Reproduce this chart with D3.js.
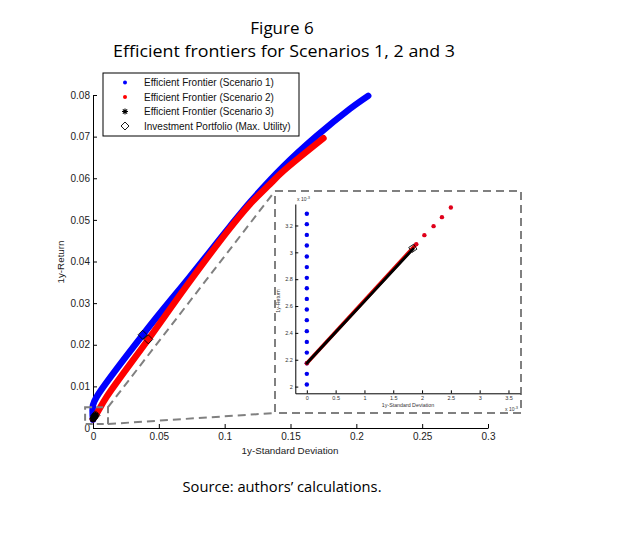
<!DOCTYPE html>
<html>
<head>
<meta charset="utf-8">
<script src="https://cdnjs.cloudflare.com/ajax/libs/d3/7.8.5/d3.min.js"></script>
<style>
  body { margin: 0; background: #fff; }
  svg { display: block; }
</style>
</head>
<body>
<div id="container"></div>
<script>
(function() {

// ---- data ----
let xTicks = [0, 0.05, 0.1, 0.15, 0.2, 0.25, 0.3];
let yTicks = [0, 0.01, 0.02, 0.03, 0.04, 0.05, 0.06, 0.07, 0.08];

// [std dev, return]
let scenario1 = [
  [0, 0.00201], [0, 0.0055], [0.0028, 0.0075], [0.0408, 0.0236], [0.0737, 0.0364],
  [0.104, 0.0484], [0.12, 0.0545], [0.1445, 0.0628], [0.170, 0.0702],
  [0.1952, 0.0767], [0.209, 0.0798]
];
let scenario2 = [
  [0, 0.00217], [0.0025, 0.0033], [0.0104, 0.0075], [0.042, 0.0213], [0.0737, 0.0353],
  [0.104, 0.0480], [0.119, 0.0537], [0.1344, 0.0586], [0.1445, 0.0617], [0.175, 0.0696]
];
let scenario3 = [
  [0, 0.002174], [0.0005, 0.002405], [0.001, 0.002635], [0.0015, 0.002866], [0.001846, 0.003026]
];
let portfolios = [[0.0377, 0.0224], [0.042, 0.0213], [0.00184, 0.00303]];

// inset (zoom on the origin)
let insetXTicks = [0, 0.0005, 0.001, 0.0015, 0.002, 0.0025, 0.003, 0.0035];
let insetYTicks = [0.002, 0.0022, 0.0024, 0.0026, 0.0028, 0.003, 0.0032];
let insetS1 = [
  0.002015, 0.002095, 0.002174, 0.002253, 0.002333, 0.002413, 0.002495, 0.002574,
  0.002653, 0.002733, 0.00281, 0.00289, 0.002969, 0.003051, 0.00313, 0.00321, 0.003287
];
let insetS2 = [
  [0, 0.002174], [0.0019, 0.003061], [0.00204, 0.003128], [0.0022, 0.003195],
  [0.002345, 0.003262], [0.0025, 0.003334]
];

let legendLabels = [
  "Efficient Frontier (Scenario 1)",
  "Efficient Frontier (Scenario 2)",
  "Efficient Frontier (Scenario 3)",
  "Investment Portfolio (Max. Utility)"
];

// ---- drawing ----
let W = 643, H = 534;
let sans = "'Liberation Sans', Arial, sans-serif";
let titleFont = "'Open Sans', 'Noto Sans', sans-serif";
let dashGrey = "#808080";

let svg = d3.select("#container")
  .append("svg")
    .attr("width", W)
    .attr("height", H);

function diamond(h) {
  return "M0," + (-h) + "L" + h + ",0L0," + h + "L" + (-h) + ",0Z";
}
function star(s) {
  let t = s * 0.72;
  return "M" + (-s) + ",0H" + s + "M0," + (-s) + "V" + s +
    "M" + (-t) + "," + (-t) + "L" + t + "," + t +
    "M" + (-t) + "," + t + "L" + t + "," + (-t);
}

// titles
svg.append("text")
  .attr("x", 282).attr("y", 34)
  .attr("text-anchor", "middle")
  .attr("font-family", titleFont).attr("font-size", 17)
  .text("Figure 6");
svg.append("text")
  .attr("x", 284).attr("y", 57)
  .attr("text-anchor", "middle")
  .attr("font-family", titleFont).attr("font-size", 17)
  .attr("textLength", 342).attr("lengthAdjust", "spacingAndGlyphs")
  .text("Efficient frontiers for Scenarios 1, 2 and 3");
svg.append("text")
  .attr("x", 282).attr("y", 492)
  .attr("text-anchor", "middle")
  .attr("font-family", titleFont).attr("font-size", 14.5)
  .attr("textLength", 199).attr("lengthAdjust", "spacingAndGlyphs")
  .text("Source: authors\u2019 calculations.");

// main scales
let x = d3.scaleLinear().domain([0, 0.3]).range([93, 488]);
let y = d3.scaleLinear().domain([0, 0.08]).range([428, 95]);

let xAxis = svg.append("g")
  .attr("transform", "translate(0," + y(0) + ")")
  .call(d3.axisBottom(x).tickValues(xTicks).tickSize(-4).tickSizeOuter(0)
    .tickPadding(5).tickFormat((d) => String(d)));
let yAxis = svg.append("g")
  .attr("transform", "translate(" + x(0) + ",0)")
  .call(d3.axisLeft(y).tickValues(yTicks).tickSize(-4).tickSizeOuter(0)
    .tickPadding(3).tickFormat((d) => String(d)));
[xAxis, yAxis].forEach((g) => {
  g.attr("font-family", sans).attr("font-size", 10).attr("color", "#000");
  g.selectAll("text").attr("fill", "#222");
});

svg.append("text")
  .attr("x", 290).attr("y", 454)
  .attr("text-anchor", "middle")
  .attr("font-family", sans).attr("font-size", 9.8).attr("fill", "#222")
  .text("1y-Standard Deviation");
svg.append("text")
  .attr("transform", "translate(64,262) rotate(-90)")
  .attr("text-anchor", "middle")
  .attr("font-family", sans).attr("font-size", 9.8).attr("fill", "#222")
  .text("1y-Return");

// frontiers (dense dot series drawn as thick strokes)
let line = d3.line()
  .x((d) => x(d[0]))
  .y((d) => y(d[1]))
  .curve(d3.curveCatmullRom.alpha(0.5));

svg.append("path")
  .attr("d", line(scenario1))
  .attr("fill", "none").attr("stroke", "#0000ff")
  .attr("stroke-width", 6.5).attr("stroke-linecap", "round").attr("stroke-linejoin", "round");
svg.append("path")
  .attr("d", line(scenario2))
  .attr("fill", "none").attr("stroke", "#ff0000")
  .attr("stroke-width", 6.5).attr("stroke-linecap", "round").attr("stroke-linejoin", "round");

svg.append("g")
  .selectAll("path")
  .data(scenario3)
  .enter()
  .append("path")
    .attr("transform", (d) => "translate(" + x(d[0]) + "," + y(d[1]) + ")")
    .attr("d", star(3.4))
    .attr("fill", "none").attr("stroke", "#000").attr("stroke-width", 1.8);

svg.append("g")
  .selectAll("path")
  .data(portfolios)
  .enter()
  .append("path")
    .attr("transform", (d) => "translate(" + x(d[0]) + "," + y(d[1]) + ")")
    .attr("d", diamond(4.5))
    .attr("fill", "none").attr("stroke", "#000").attr("stroke-width", 0.9);

// zoom indicator box and connectors
let zoomBox = { x0: x(-0.006), x1: x(0.0114), y0: y(0.005), y1: y(0.00096) };
let panel = { x0: 275, x1: 521, y0: 191, y1: 413 };

svg.append("rect")
  .attr("x", zoomBox.x0).attr("y", zoomBox.y0)
  .attr("width", zoomBox.x1 - zoomBox.x0).attr("height", zoomBox.y1 - zoomBox.y0)
  .attr("fill", "none").attr("stroke", dashGrey).attr("stroke-width", 2)
  .attr("stroke-dasharray", "7,4");
svg.append("line")
  .attr("x1", zoomBox.x1).attr("y1", zoomBox.y0)
  .attr("x2", panel.x0).attr("y2", panel.y0)
  .attr("stroke", dashGrey).attr("stroke-width", 2).attr("stroke-dasharray", "8,5");
svg.append("line")
  .attr("x1", zoomBox.x1).attr("y1", zoomBox.y1)
  .attr("x2", panel.x0).attr("y2", panel.y1)
  .attr("stroke", dashGrey).attr("stroke-width", 2).attr("stroke-dasharray", "8,5");

svg.append("rect")
  .attr("x", panel.x0).attr("y", panel.y0)
  .attr("width", panel.x1 - panel.x0).attr("height", panel.y1 - panel.y0)
  .attr("fill", "#fff").attr("stroke", dashGrey).attr("stroke-width", 2)
  .attr("stroke-dasharray", "8,5");

// inset axes
let ix = d3.scaleLinear().domain([-0.0002, 0.0037]).range([295.3, 520]);
let iy = d3.scaleLinear().domain([0.00195, 0.00336]).range([393.3, 204]);
let milli = (d) => String(+(d * 1000).toFixed(1));

let ixAxis = svg.append("g")
  .attr("transform", "translate(0," + iy.range()[0] + ")")
  .call(d3.axisBottom(ix).tickValues(insetXTicks).tickSize(-3).tickSizeOuter(0)
    .tickPadding(3).tickFormat(milli));
let iyAxis = svg.append("g")
  .attr("transform", "translate(" + ix.range()[0] + ",0)")
  .call(d3.axisLeft(iy).tickValues(insetYTicks).tickSize(-3).tickSizeOuter(0)
    .tickPadding(2.5).tickFormat(milli));
[ixAxis, iyAxis].forEach((g) => {
  g.attr("font-family", sans).attr("font-size", 5.5).attr("color", "#000");
  g.selectAll("text").attr("fill", "#333");
});

function exponent(xp, yp) {
  let t = svg.append("text")
    .attr("x", xp).attr("y", yp)
    .attr("font-family", sans).attr("font-size", 5).attr("fill", "#333");
  t.append("tspan").text("x 10");
  t.append("tspan").attr("dy", -2.5).attr("font-size", 4).text("-3");
}
exponent(297, 201);
exponent(505, 411);

svg.append("text")
  .attr("x", 408).attr("y", 407)
  .attr("text-anchor", "middle")
  .attr("font-family", sans).attr("font-size", 5.3).attr("fill", "#333")
  .text("1y-Standard Deviation");
svg.append("text")
  .attr("transform", "translate(280,301) rotate(-90)")
  .attr("text-anchor", "middle")
  .attr("font-family", sans).attr("font-size", 5.3).attr("fill", "#333")
  .text("1y-Return");

// inset marks
let iline = d3.line().x((d) => ix(d[0])).y((d) => iy(d[1]));

svg.append("g")
  .selectAll("circle")
  .data(insetS1)
  .enter()
  .append("circle")
    .attr("cx", ix(0))
    .attr("cy", (d) => iy(d))
    .attr("r", 2.2)
    .attr("fill", "#0000ee");

svg.append("path")
  .attr("d", iline(insetS2.slice(0, 2)))
  .attr("stroke", "#e00000").attr("stroke-width", 3.6).attr("fill", "none");
svg.append("g")
  .selectAll("circle")
  .data(insetS2)
  .enter()
  .append("circle")
    .attr("cx", (d) => ix(d[0]))
    .attr("cy", (d) => iy(d[1]))
    .attr("r", 2.2)
    .attr("fill", "#e0001a");

svg.append("path")
  .attr("d", iline(scenario3))
  .attr("stroke", "#000").attr("stroke-width", 2.8).attr("fill", "none")
  .attr("stroke-linecap", "round");

svg.append("path")
  .attr("transform", "translate(" + ix(portfolios[2][0]) + "," + iy(portfolios[2][1]) + ") rotate(12)")
  .attr("d", diamond(4.2))
  .attr("fill", "none").attr("stroke", "#000").attr("stroke-width", 0.8);

// legend
let legend = svg.append("g");
legend.append("rect")
  .attr("x", 103).attr("y", 73).attr("width", 196).attr("height", 63)
  .attr("fill", "#fff").attr("stroke", "#000").attr("stroke-width", 1);

let rowY = [82.5, 97, 111.5, 126];
legendLabels.forEach((label, i) => {
  let cy = rowY[i];
  if (i === 0 || i === 1) {
    legend.append("circle")
      .attr("cx", 125).attr("cy", cy).attr("r", 2)
      .attr("fill", i === 0 ? "#0000ff" : "#ff0000");
  } else if (i === 2) {
    legend.append("path")
      .attr("transform", "translate(125," + cy + ")")
      .attr("d", star(3))
      .attr("fill", "none").attr("stroke", "#000").attr("stroke-width", 1.1);
  } else {
    legend.append("path")
      .attr("transform", "translate(125," + cy + ")")
      .attr("d", diamond(4))
      .attr("fill", "none").attr("stroke", "#000").attr("stroke-width", 0.9);
  }
  legend.append("text")
    .attr("x", 144).attr("y", cy + 3.5)
    .attr("font-family", sans).attr("font-size", 10).attr("fill", "#111")
    .text(label);
});

})();
</script>
</body>
</html>
